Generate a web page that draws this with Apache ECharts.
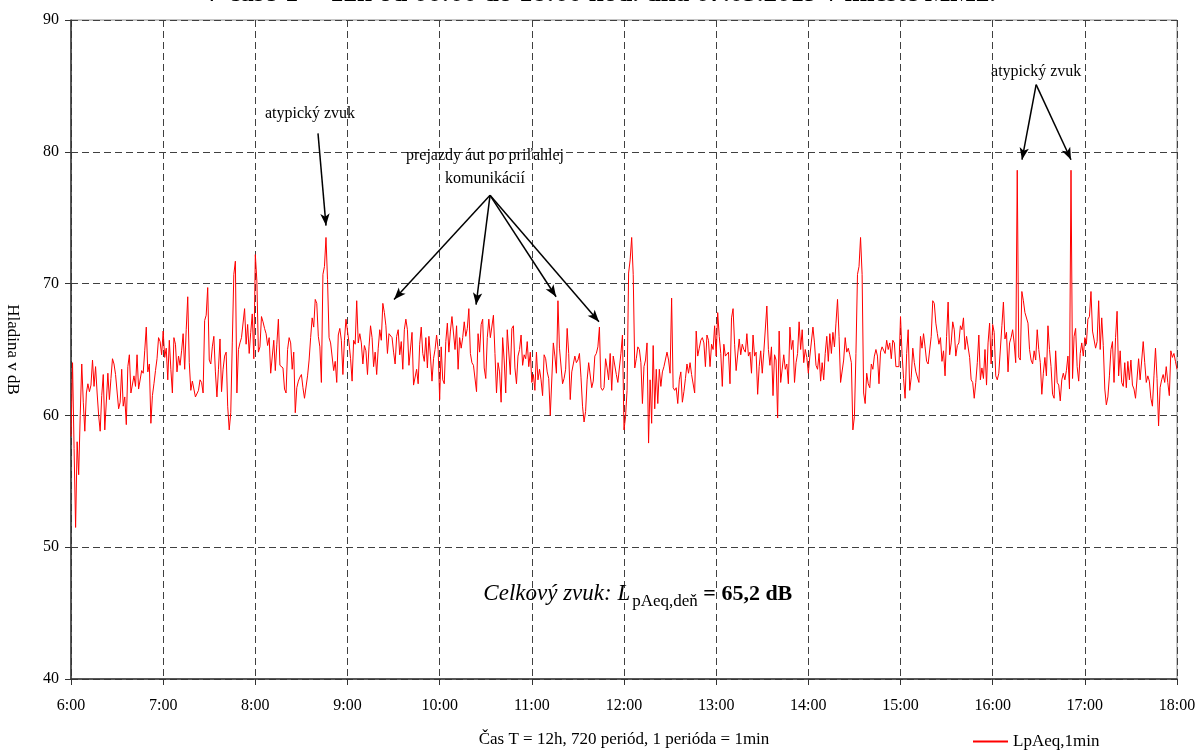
<!DOCTYPE html>
<html>
<head>
<meta charset="utf-8">
<title>LpAeq,1min</title>
<script src="https://cdn.jsdelivr.net/npm/echarts@6/dist/echarts.min.js"></script>
<style>
  html, body { margin: 0; padding: 0; background: #fff; }
  #main { width: 1198px; height: 751px; }
</style>
</head>
<body>
<div id="main"></div>
<script>
// LpAeq,1min v dB, jedna hodnota za minutu, po hodinach (06:00 .. 18:00)
var h06 = [58.4, 64.0, 57.5, 51.5, 58.0, 55.5, 60.0, 63.9, 61.0, 58.8,
  61.7, 62.4, 61.8, 62.3, 64.2, 62.2, 63.7, 61.7, 60.0, 58.8,
  61.5, 63.1, 58.9, 59.0, 63.2, 61.2, 62.8, 64.3, 63.9, 63.1,
  63.2, 60.5, 61.0, 63.5, 60.7, 61.4, 59.3, 63.7, 64.6, 61.7,
  61.8, 63.0, 62.2, 64.6, 62.0, 62.1, 63.4, 63.2, 64.9, 66.7,
  63.3, 63.9, 59.4, 61.5, 62.4, 63.4, 64.3, 65.9, 65.6, 64.6];
var h07 = [66.4, 64.4, 65.1, 62.7, 65.7, 63.5, 61.7, 65.9, 65.4, 63.3,
  64.5, 63.8, 64.9, 66.2, 63.5, 66.5, 69.0, 64.0, 61.9, 62.6,
  62.6, 61.4, 61.3, 61.9, 62.7, 62.5, 61.7, 67.2, 67.6, 69.7,
  64.2, 63.9, 65.2, 66.0, 63.3, 61.4, 63.5, 65.8, 61.8, 63.5,
  64.5, 64.8, 60.7, 58.9, 60.2, 65.5, 70.7, 71.7, 61.7, 65.0,
  65.5, 65.9, 66.0, 68.1, 65.4, 66.9, 64.7, 66.3, 67.7, 64.3];
var h08 = [72.2, 70.2, 64.8, 65.2, 67.5, 67.1, 66.6, 66.2, 65.3, 65.9,
  63.2, 63.3, 65.7, 63.4, 65.4, 67.3, 63.8, 63.7, 63.6, 62.0,
  61.7, 65.0, 65.9, 65.5, 63.5, 64.8, 60.2, 62.1, 62.6, 62.9,
  63.1, 62.1, 61.3, 61.3, 63.0, 64.2, 65.9, 67.4, 66.7, 68.8,
  68.5, 66.0, 65.2, 62.5, 70.7, 71.3, 73.5, 70.3, 65.9, 65.5,
  65.5, 63.4, 64.1, 62.5, 66.1, 66.6, 65.7, 63.1, 65.7, 67.3];
var h09 = [67.2, 65.5, 64.3, 62.6, 65.7, 65.4, 68.7, 65.5, 66.2, 65.5,
  63.9, 65.3, 64.9, 63.1, 65.2, 66.8, 65.9, 63.7, 64.8, 63.1,
  65.1, 66.5, 65.7, 68.5, 67.8, 66.8, 64.7, 66.2, 66.1, 65.9,
  64.8, 63.9, 66.0, 66.5, 64.6, 65.6, 63.5, 66.5, 67.3, 66.5,
  63.8, 63.8, 66.3, 62.3, 62.2, 63.5, 62.4, 65.4, 66.7, 64.7,
  64.1, 65.9, 63.6, 66.0, 64.5, 62.6, 64.3, 65.0, 66.1, 65.0];
var h10 = [61.2, 65.2, 62.7, 62.4, 65.6, 67.0, 64.8, 66.4, 67.5, 67.4,
  65.0, 66.8, 63.5, 65.9, 65.1, 65.9, 67.1, 66.0, 66.6, 68.1,
  64.7, 64.0, 63.8, 63.7, 61.8, 66.2, 64.8, 66.9, 67.3, 63.6,
  62.8, 65.9, 67.3, 65.9, 66.0, 67.6, 64.7, 61.7, 64.0, 63.3,
  61.0, 65.9, 64.2, 61.7, 66.5, 66.4, 63.1, 66.6, 66.8, 63.6,
  62.4, 64.5, 65.0, 66.1, 63.8, 64.6, 64.3, 65.6, 63.7, 64.8];
var h11 = [62.5, 63.1, 61.9, 64.8, 62.7, 63.5, 62.7, 61.5, 64.6, 64.3,
  63.3, 62.8, 60.0, 59.9, 65.5, 64.5, 63.2, 68.7, 65.1, 65.0,
  62.4, 62.8, 63.5, 66.6, 64.7, 61.2, 63.3, 63.9, 64.5, 64.0,
  64.2, 64.7, 62.9, 60.7, 59.5, 60.3, 62.7, 64.0, 64.1, 62.1,
  62.6, 64.5, 64.7, 65.2, 66.7, 62.1, 61.9, 62.1, 64.3, 63.6,
  62.7, 64.7, 61.9, 64.5, 64.5, 63.1, 62.5, 62.6, 64.7, 66.1];
var h12 = [58.9, 59.9, 61.9, 70.8, 71.8, 73.5, 70.7, 63.6, 64.3, 65.2,
  65.0, 64.0, 60.9, 63.7, 64.2, 65.5, 57.9, 62.7, 59.4, 65.3,
  60.5, 63.5, 60.9, 63.5, 62.2, 63.3, 63.7, 63.6, 64.8, 64.2,
  63.2, 68.9, 62.1, 61.9, 62.1, 60.9, 62.7, 63.3, 61.0, 61.8,
  62.8, 63.9, 63.2, 64.0, 63.1, 63.1, 61.7, 66.4, 64.5, 65.1,
  65.7, 65.9, 65.5, 63.7, 66.1, 65.7, 63.7, 65.4, 65.0, 66.8];
var h13 = [64.5, 67.8, 66.0, 64.7, 62.2, 65.4, 64.5, 64.5, 64.8, 62.4,
  67.4, 68.1, 65.4, 63.4, 63.4, 65.8, 64.6, 65.4, 65.0, 64.8,
  66.2, 64.5, 64.8, 63.2, 66.1, 64.5, 64.8, 61.6, 63.7, 64.9,
  63.2, 64.8, 64.8, 68.3, 65.0, 63.8, 65.2, 61.5, 64.6, 64.2,
  59.8, 66.4, 62.5, 62.4, 64.6, 63.5, 63.9, 62.4, 66.7, 65.0,
  65.7, 62.5, 64.0, 64.7, 67.1, 65.0, 66.5, 64.0, 65.0, 64.4];
var h14 = [63.2, 64.5, 64.6, 66.7, 65.5, 63.8, 63.5, 64.7, 62.6, 64.0,
  62.7, 64.7, 66.0, 64.1, 66.2, 64.7, 66.3, 65.2, 67.0, 68.8,
  66.0, 62.5, 62.4, 64.2, 65.9, 64.8, 65.1, 64.6, 64.0, 58.9,
  59.9, 64.7, 70.7, 71.3, 73.5, 70.7, 61.7, 60.9, 63.2, 62.4,
  62.1, 63.9, 63.5, 64.5, 65.0, 64.5, 62.4, 64.8, 65.2, 65.2,
  64.7, 65.7, 65.0, 65.5, 64.3, 65.7, 65.5, 63.7, 63.6, 63.7];
var h15 = [67.5, 64.7, 62.8, 61.3, 64.7, 66.5, 61.9, 62.9, 65.1, 64.0,
  63.3, 63.2, 62.5, 66.0, 65.1, 66.2, 65.2, 64.1, 63.9, 63.9,
  66.0, 68.7, 68.5, 67.0, 66.2, 65.4, 65.9, 64.1, 64.9, 63.0,
  66.0, 68.6, 64.6, 65.5, 67.1, 66.5, 64.5, 65.3, 65.5, 66.8,
  66.5, 67.4, 65.0, 66.0, 65.9, 64.4, 62.7, 62.5, 61.3, 62.5,
  64.0, 66.1, 62.7, 63.6, 62.8, 65.0, 62.3, 65.5, 67.0, 63.9];
var h16 = [66.9, 66.3, 63.0, 62.7, 63.2, 63.3, 66.8, 68.6, 65.8, 66.3,
  63.3, 65.5, 65.9, 66.5, 65.5, 64.0, 78.6, 64.4, 64.2, 69.4,
  68.7, 67.8, 67.7, 67.0, 65.0, 64.2, 63.9, 64.9, 64.2, 66.5,
  65.0, 64.0, 61.6, 63.2, 64.4, 63.0, 66.8, 65.0, 63.7, 61.6,
  61.3, 64.9, 62.5, 62.3, 61.1, 62.7, 63.2, 62.7, 63.4, 64.5,
  62.0, 78.6, 62.8, 66.0, 66.6, 63.7, 62.6, 64.7, 65.5, 64.5];
var h17 = [65.9, 65.4, 67.3, 67.5, 69.4, 66.4, 66.3, 65.1, 65.6, 68.7,
  65.0, 67.4, 65.3, 62.0, 60.8, 61.4, 63.0, 65.0, 65.6, 62.5,
  65.9, 67.9, 63.0, 64.9, 62.5, 62.2, 64.0, 62.1, 64.1, 62.7,
  64.2, 62.3, 62.0, 61.3, 61.2, 64.3, 62.7, 62.7, 65.6, 64.0,
  62.5, 63.0, 62.6, 61.3, 60.7, 63.0, 65.1, 62.8, 59.2, 62.1,
  62.7, 63.1, 62.5, 63.7, 62.5, 61.5, 64.9, 64.4, 64.7, 64.1,
  63.5];

var hourLabels = ['6:00', '7:00', '8:00', '9:00', '10:00', '11:00', '12:00',
  '13:00', '14:00', '15:00', '16:00', '17:00', '18:00'];
var yTicks = [40, 50, 60, 70, 80, 90];

var seriesName = 'LpAeq,1min';
var titleText = 'V čase T = 12h od 06:00 do 18:00 hod. dňa 07.05.2019 v mieste MM2.';
var xName = 'Čas T = 12h, 720 periód, 1 perióda = 1min';
var yName = 'Hladina v dB';

// popisky a sipky v suradniciach grafu [minuta, dB]
var arrows = [
  [[160.8, 81.4], [166.0, 74.4]],
  [[272.8, 76.7], [210.3, 68.8]],
  [[272.8, 76.7], [263.7, 68.4]],
  [[272.8, 76.7], [315.8, 69.0]],
  [[272.8, 76.7], [343.7, 67.1]],
  [[628.3, 85.1], [619.1, 79.4]],
  [[628.3, 85.1], [651.0, 79.4]]
];

var lpAeq = h06.concat(h07, h08, h09, h10, h11, h12, h13, h14, h15, h16, h17);
var seriesData = lpAeq.map(function (v, i) { return [i, v]; });

var FONT = 'Liberation Serif';
var myChart = echarts.init(document.getElementById('main'));

var option = {
  animation: false,
  backgroundColor: '#fff',
  title: {
    text: titleText,
    left: 'center',
    top: -19,
    padding: 0,
    textStyle: { fontFamily: FONT, fontSize: 27, fontWeight: 'bold', color: '#000' }
  },
  legend: {
    data: [{ name: seriesName, icon: 'rect', itemStyle: { color: '#ff0000', borderWidth: 0 } }],
    left: 968,
    top: 728,
    itemWidth: 35,
    itemHeight: 2,
    itemGap: 6,
    textStyle: { fontFamily: FONT, fontSize: 17, color: '#000' }
  },
  grid: {
    left: 71,
    right: 21,
    top: 20,
    bottom: 72,
    containLabel: false,
    outerBoundsMode: 'none',
    show: true,
    borderColor: '#8c8c8c',
    borderWidth: 1
  },
  xAxis: {
    type: 'value',
    min: 0,
    max: 720,
    interval: 60,
    name: xName,
    nameLocation: 'middle',
    nameGap: 52,
    nameTextStyle: { fontFamily: FONT, fontSize: 17, color: '#000' },
    axisLine: { lineStyle: { color: '#333', width: 1.5 } },
    axisTick: { length: 6, lineStyle: { color: '#333' } },
    axisLabel: {
      formatter: function (v) { return hourLabels[v / 60]; },
      fontFamily: FONT, fontSize: 16, color: '#000', margin: 19
    },
    splitLine: { show: true, lineStyle: { type: [7, 4], color: '#404040', width: 1 } }
  },
  yAxis: {
    type: 'value',
    min: yTicks[0],
    max: yTicks[yTicks.length - 1],
    interval: 10,
    name: yName,
    nameLocation: 'middle',
    nameRotate: -90,
    nameGap: 50,
    nameTextStyle: { fontFamily: FONT, fontSize: 17, color: '#000' },
    axisLine: { show: true, lineStyle: { color: '#333', width: 1.5 } },
    axisTick: { show: true, length: 6, lineStyle: { color: '#333' } },
    axisLabel: { fontFamily: FONT, fontSize: 16, color: '#000', margin: 12 },
    splitLine: { show: true, lineStyle: { type: [7, 4], color: '#404040', width: 1 } }
  },
  series: [{
    name: seriesName,
    type: 'line',
    data: seriesData,
    symbol: 'none',
    showSymbol: false,
    color: '#ff0000',
    lineStyle: { color: '#ff0000', width: 1 },
    itemStyle: { color: '#ff0000' },
    markLine: {
      silent: true,
      symbol: ['none', 'arrow'],
      symbolSize: [7, 12],
      label: { show: false },
      lineStyle: { color: '#000', width: 1.5, type: 'solid' },
      data: arrows.map(function (a) {
        return [{ coord: a[0] }, { coord: a[1] }];
      })
    }
  }]
};

myChart.setOption(option);

// texty na pozicii v datovych suradniciach
function px(p) {
  return myChart.convertToPixel({ gridIndex: 0 }, p);
}
var t1 = px([155.6, 82.9]);
var t2 = px([269.5, 78.8]);
var t3 = px([628.3, 86.1]);
var t4 = px([369.0, 46.3]);
var baseText = { fontFamily: FONT, fontSize: 16, fill: '#000', align: 'center', verticalAlign: 'middle' };

myChart.setOption({
  graphic: [
    { type: 'text', x: t1[0], y: t1[1], style: Object.assign({ text: 'atypický zvuk' }, baseText) },
    { type: 'text', x: t2[0], y: t2[1], style: Object.assign({ text: 'prejazdy áut po priľahlej\nkomunikácií', lineHeight: 23 }, baseText) },
    { type: 'text', x: t3[0], y: t3[1], style: Object.assign({ text: 'atypický zvuk' }, baseText) },
    {
      type: 'text', x: t4[0], y: t4[1],
      style: {
        text: '{i|Celkový zvuk: L}{s|pAeq,deň}{b| = 65,2 dB}',
        align: 'center',
        verticalAlign: 'middle',
        rich: {
          i: { fontFamily: FONT, fontSize: 23, fontStyle: 'italic', fill: '#000', verticalAlign: 'bottom', padding: [0, 0, 5, 0] },
          s: { fontFamily: FONT, fontSize: 17, fill: '#000', verticalAlign: 'bottom', padding: [0, 0, 0, 2] },
          b: { fontFamily: FONT, fontSize: 22, fontWeight: 'bold', fill: '#000', verticalAlign: 'bottom', padding: [0, 0, 5, 0] }
        }
      }
    }
  ]
});
</script>
</body>
</html>
